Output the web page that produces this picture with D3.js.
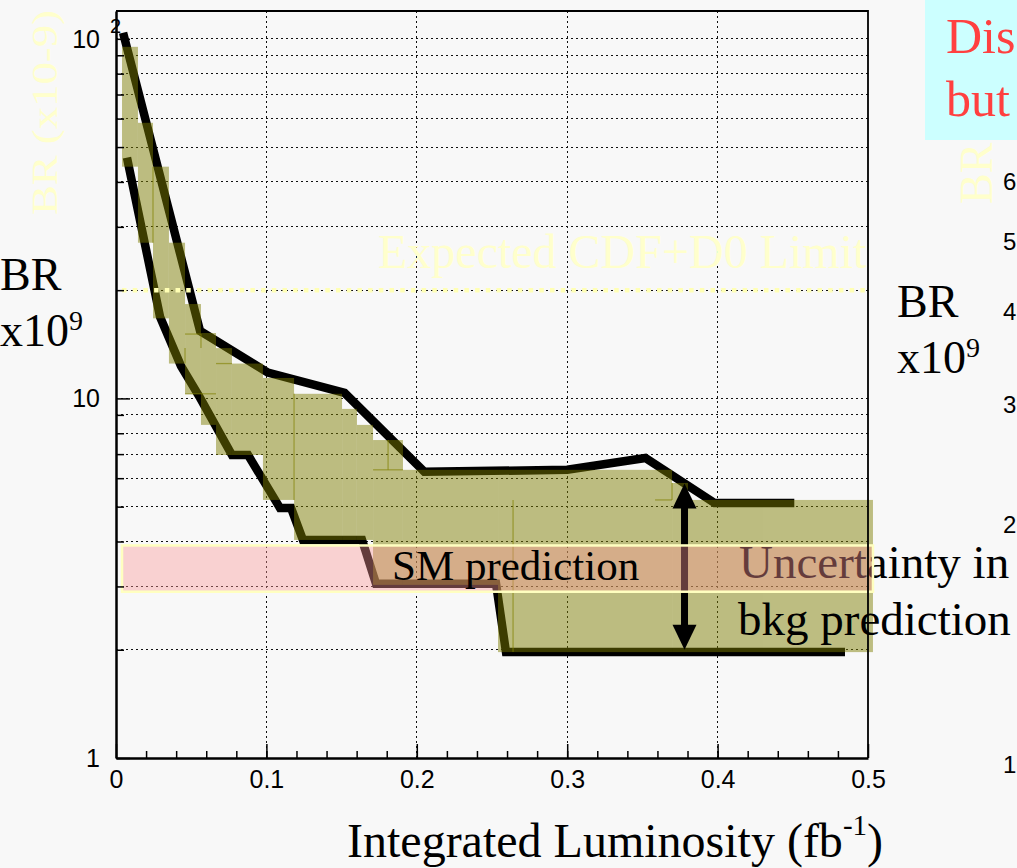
<!DOCTYPE html>
<html lang="en">
<head>
    <style>
        body { margin: 0; background: #f8f8f8; }
        .grid line { stroke: #111; stroke-width: 1; stroke-dasharray: 2,3; shape-rendering: crispEdges; }
        .serif { font-family: "Liberation Serif", "Times New Roman", serif; }
        .sans { font-family: "Liberation Sans", Arial, sans-serif; }
    </style>
    <script src="https://d3js.org/d3.v7.min.js"></script>
</head>
<body>
    <svg width="1017" height="868"></svg>
    <script>
        // tick values
        var lumiMajor = [0, 0.1, 0.2, 0.3, 0.4, 0.5];
        var lumiMinor = d3.range(0.02, 0.5, 0.02);
        var brGrid = [2, 3, 4, 5, 6, 7, 8, 9, 10, 20, 30, 40, 50, 60, 70, 80, 90, 100];

        // hand drawn edges of the expected limit band
        var upperLumi = [0.0047, 0.0559, 0.101, 0.152, 0.205, 0.300, 0.352, 0.398, 0.451];
        var upperBR = [104, 15.4, 11.8, 10.36, 6.25, 6.33, 6.83, 5.12, 5.12];
        var lowerLumi = [0.0073, 0.0293, 0.0432, 0.0559, 0.0771, 0.0878, 0.109, 0.1164, 0.1243, 0.1636, 0.1729, 0.2527, 0.2593, 0.4847];
        var lowerBR = [46.7, 16.85, 12.31, 10.03, 6.96, 6.96, 4.96, 4.96, 4.04, 4.04, 3.05, 3.05, 1.97, 1.97];

        // uncertainty boxes
        var bandLumiLo = [0.004, 0.0146, 0.0246, 0.0352, 0.0459, 0.0565, 0.0665, 0.0771, 0.0977, 0.1184, 0.1503, 0.1602, 0.1709, 0.1908, 0.254, 0.3697, 0.3803];
        var bandLumiHi = [0.0146, 0.0246, 0.0352, 0.0459, 0.0565, 0.0665, 0.0771, 0.0977, 0.1184, 0.1503, 0.1602, 0.1709, 0.1908, 0.254, 0.3697, 0.3803, 0.5033];
        var bandLow = [44.1, 27.1, 16.7, 12.5, 10.3, 8.44, 6.96, 6.96, 5.22, 4.04, 4.04, 4.04, 3.03, 3.03, 1.97, 1.97, 1.97];
        var bandHigh = [95.0, 58.4, 44.1, 27.1, 18.3, 15.2, 13.8, 12.5, 11.4, 10.3, 9.35, 8.44, 7.66, 6.33, 6.33, 5.82, 5.22];

        // error bar pieces that show through the boxes [lumi0, br0, lumi1, br1]
        var errSegments = [
            [0.0246, 44.1, 0.0246, 27.1],
            [0.0459, 15.1, 0.0565, 15.1],
            [0.0565, 15.1, 0.0565, 13.8],
            [0.0459, 13.8, 0.0459, 12.5],
            [0.0665, 12.5, 0.0771, 12.5],
            [0.0459, 10.3, 0.0665, 10.3],
            [0.1184, 10.3, 0.1184, 5.22],
            [0.1809, 7.66, 0.1809, 6.33],
            [0.1709, 6.33, 0.1908, 6.33],
            [0.264, 5.22, 0.264, 1.97],
            [0.3584, 5.22, 0.3697, 5.22],
            [0.3697, 5.82, 0.3697, 5.22]
        ];

        var smLumi = [0.004, 0.5033], smLow = 2.9, smHigh = 3.9;
        var limitLumi = [0.004, 0.5], limitBR = 20;
        var arrowLumi = 0.378, arrowTop = 5.8, arrowBottom = 2.0;

        var svg = d3.select("svg");
        var x = d3.scaleLinear().domain([0, 0.5]).range([116, 868]);
        var y = d3.scaleLog().domain([1, 119.5]).range([758, 11]);

        svg.append("rect").attr("width", 1017).attr("height", 868).attr("fill", "#f8f8f8");

        // bits of the neighbouring slide content
        svg.append("rect").attr("x", 925).attr("y", 0).attr("width", 92).attr("height", 140).attr("fill", "#ccffff");
        svg.append("text").attr("class", "serif").attr("x", 946).attr("y", 53)
            .attr("font-size", "50px").attr("fill", "#ff4040").text("Dis");
        svg.append("text").attr("class", "serif").attr("x", 946).attr("y", 116)
            .attr("font-size", "50px").attr("fill", "#ff4040").text("but");
        svg.append("text").attr("class", "serif")
            .attr("transform", "translate(992,204) rotate(-90)")
            .attr("font-size", "46px").attr("fill", "#ffffcc").text("BR");
        [["6", 190], ["5", 250], ["4", 320], ["3", 413], ["2", 533], ["1", 773]].forEach(function(d) {
            svg.append("text").attr("class", "sans").attr("x", 1003).attr("y", d[1])
                .attr("font-size", "24px").attr("fill", "#000").text(d[0]);
        });

        // grid
        var grid = svg.append("g").attr("class", "grid");
        grid.selectAll(".gx").data([0.1, 0.2, 0.3, 0.4]).enter().append("line")
            .attr("x1", function(d) { return x(d); }).attr("x2", function(d) { return x(d); })
            .attr("y1", y(1)).attr("y2", y(119.5));
        grid.selectAll(".gy").data(brGrid).enter().append("line")
            .attr("x1", x(0)).attr("x2", x(0.5))
            .attr("y1", function(d) { return y(d); }).attr("y2", function(d) { return y(d); });

        // black edge lines
        var line = d3.line().x(function(d) { return x(d[0]); }).y(function(d) { return y(d[1]); });
        svg.append("path").datum(d3.zip(upperLumi, upperBR)).attr("d", line)
            .attr("fill", "none").attr("stroke", "#000").attr("stroke-width", 8.5);
        svg.append("path").datum(d3.zip(lowerLumi, lowerBR)).attr("d", line)
            .attr("fill", "none").attr("stroke", "#000").attr("stroke-width", 8.5);

        // olive boxes
        var boxes = svg.append("g").attr("opacity", 0.48);
        boxes.selectAll("rect").data(d3.range(bandLow.length)).enter().append("rect")
            .attr("x", function(i) { return x(bandLumiLo[i]); })
            .attr("width", function(i) { return x(bandLumiHi[i]) - x(bandLumiLo[i]); })
            .attr("y", function(i) { return y(bandHigh[i]); })
            .attr("height", function(i) { return y(bandLow[i]) - y(bandHigh[i]); })
            .attr("fill", "#7d7d00");

        svg.append("g").selectAll("line").data(errSegments).enter().append("line")
            .attr("x1", function(d) { return x(d[0]); }).attr("y1", function(d) { return y(d[1]); })
            .attr("x2", function(d) { return x(d[2]); }).attr("y2", function(d) { return y(d[3]); })
            .attr("stroke", "#808000").attr("stroke-opacity", 0.6).attr("stroke-width", 1.3);

        // double arrow
        var ax = x(arrowLumi), at = y(arrowTop), ab = y(arrowBottom);
        svg.append("line").attr("x1", ax).attr("x2", ax).attr("y1", at + 18).attr("y2", ab - 18)
            .attr("stroke", "#000").attr("stroke-width", 7);
        svg.append("path").attr("fill", "#000")
            .attr("d", "M" + ax + "," + at + "l12,25h-24z");
        svg.append("path").attr("fill", "#000")
            .attr("d", "M" + ax + "," + ab + "l12,-25h-24z");

        svg.append("text").attr("class", "serif").attr("x", 739).attr("y", 578)
            .attr("font-size", "47px").attr("fill", "#000").text("Uncertainty in");
        svg.append("text").attr("class", "serif").attr("x", 738).attr("y", 635)
            .attr("font-size", "47px").attr("fill", "#000").text("bkg prediction");

        // SM band
        svg.append("rect")
            .attr("x", x(smLumi[0])).attr("width", x(smLumi[1]) - x(smLumi[0]))
            .attr("y", y(smHigh)).attr("height", y(smLow) - y(smHigh))
            .attr("fill", "rgb(250,150,150)").attr("fill-opacity", 0.4)
            .attr("stroke", "#ffffc0").attr("stroke-width", 2.5);
        svg.append("text").attr("class", "serif").attr("x", 392).attr("y", 580)
            .attr("font-size", "43px").attr("fill", "#000").text("SM prediction");

        // expected limit
        svg.append("line").attr("x1", x(limitLumi[0])).attr("x2", x(limitLumi[1]))
            .attr("y1", y(limitBR)).attr("y2", y(limitBR))
            .attr("stroke", "#ffffb4").attr("stroke-width", 4.5).attr("stroke-dasharray", "4.5,6.2");
        svg.append("text").attr("class", "serif").attr("x", 378).attr("y", 268)
            .attr("font-size", "48px").attr("fill", "#ffffcc").text("Expected CDF+D0 Limit");

        // axes
        var xAxis = svg.append("g").attr("transform", "translate(0," + y(1) + ")");
        xAxis.call(d3.axisBottom(x).tickValues(lumiMajor).tickSize(-14).tickSizeOuter(0)
            .tickFormat(function(d) { return d === 0 ? "0" : d3.format(".1f")(d); }));
        xAxis.append("g").call(d3.axisBottom(x).tickValues(lumiMinor).tickSize(-7).tickFormat(""))
            .select(".domain").remove();
        xAxis.selectAll("line").attr("stroke", "#000").attr("stroke-width", 1.5);
        xAxis.select(".domain").attr("stroke-width", 2.5);
        xAxis.selectAll("text").attr("class", "sans").attr("font-size", "25px").attr("fill", "#000")
            .attr("y", 12).attr("dy", "0.71em");

        var yAxis = svg.append("g").attr("transform", "translate(" + x(0) + ",0)");
        yAxis.call(d3.axisLeft(y).tickValues([1, 10, 100]).tickSize(-14).tickSizeOuter(0).tickFormat(""));
        yAxis.append("g").call(d3.axisLeft(y).tickValues(brGrid.filter(function(d) { return d !== 10 && d !== 100; }))
            .tickSize(-8).tickFormat("")).select(".domain").remove();
        yAxis.selectAll("line").attr("stroke", "#000").attr("stroke-width", 1.5);
        yAxis.select(".domain").attr("stroke-width", 2.5);

        [1, 10, 100].forEach(function(d) {
            svg.append("text").attr("class", "sans").attr("x", 100).attr("y", y(d))
                .attr("dy", "0.36em").attr("text-anchor", "end")
                .attr("font-size", "25px").attr("fill", "#000").text(d === 1 ? "1" : "10");
        });
        svg.append("text").attr("class", "sans").attr("x", 110).attr("y", y(100) - 6)
            .attr("font-size", "20px").attr("fill", "#000").text("2");

        // frame top / right
        svg.append("path").attr("fill", "none").attr("stroke", "#000").attr("stroke-width", 1.8)
            .attr("d", "M" + x(0) + "," + y(119.5) + "H" + x(0.5) + "V" + y(1));

        // titles
        var xt = svg.append("text").attr("class", "serif").attr("x", 347).attr("y", 857)
            .attr("font-size", "48px").attr("fill", "#000");
        xt.append("tspan").text("Integrated Luminosity (fb");
        xt.append("tspan").attr("dy", -22).attr("font-size", "29px").text("-1");
        xt.append("tspan").attr("dy", 22).text(")");

        [[0, 290, 346], [897, 317, 373]].forEach(function(p) {
            svg.append("text").attr("class", "serif").attr("x", p[0]).attr("y", p[1])
                .attr("font-size", "46px").attr("fill", "#000").text("BR");
            var t = svg.append("text").attr("class", "serif").attr("x", p[0]).attr("y", p[2])
                .attr("font-size", "46px").attr("fill", "#000");
            t.append("tspan").text("x10");
            t.append("tspan").attr("dy", -16).attr("font-size", "28px").text("9");
        });

        svg.append("text").attr("class", "serif")
            .attr("transform", "translate(57,215) rotate(-90)")
            .attr("font-size", "36px").attr("textLength", 205).attr("lengthAdjust", "spacingAndGlyphs")
            .attr("fill", "#ffffcc").text("BR (x10-9)");
    </script>
</body>
</html>
